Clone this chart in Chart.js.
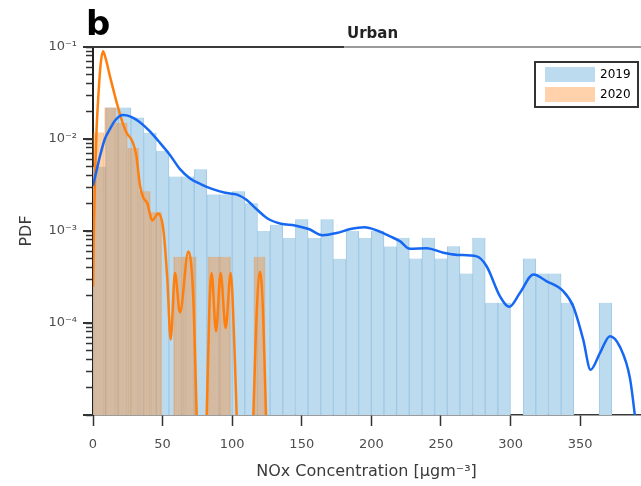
<!DOCTYPE html>
<html>
<head>
<meta charset="utf-8">
<script src="https://cdn.jsdelivr.net/npm/chart.js@4.4.0/dist/chart.umd.min.js"></script>
<style>
html, body { margin: 0; padding: 0; background: #fff; }
#wrap { width: 641px; height: 486px; }
</style>
</head>
<body>
<div id="wrap"><canvas id="pdf-chart" width="641" height="486"></canvas></div>
<script>
// 直方图 2019（分箱宽度，单位 μg/m³）
const binWidth2019 = 9.09;
const pdf2019 = [
    5.0e-3, 2.2e-2, 2.2e-2, 1.71e-2, 1.17e-2, 7.4e-3, 3.9e-3, 3.9e-3, 4.7e-3, 2.5e-3,
    2.5e-3, 2.7e-3, 2.0e-3, 1.0e-3, 1.17e-3, 8.4e-4, 1.34e-3, 8.4e-4, 1.34e-3, 5.0e-4,
    1.0e-3, 8.4e-4, 1.0e-3, 6.8e-4, 8.43e-4, 5.02e-4, 8.43e-4, 5.02e-4, 6.84e-4, 3.45e-4,
    8.43e-4, 1.66e-4, 1.66e-4, null, 5.02e-4, 3.45e-4, 3.45e-4, 1.66e-4, null, null,
    1.66e-4
];

// 直方图 2020
const binWidth2020 = 8.25;
const pdf2020 = [
    1.18e-2, 2.2e-2, 1.5e-2, 8.0e-3, 2.7e-3, 1.6e-3, null, 5.24e-4, 5.24e-4, null,
    5.24e-4, 5.24e-4, null, null, 5.24e-4
];

// 核密度曲线 2019
const kdeX2019 = [0, 2.5, 5, 8.5, 12, 16, 21.5, 27, 33, 40, 47, 55, 62.5, 70, 78, 86, 95, 103, 110,
    118, 126, 135, 145, 155, 165, 175, 185, 195, 205, 213, 220.5, 227.7, 239.7, 251.7, 262, 275.7,
    282.8, 292.4, 299.1, 306.8, 316.4, 326, 338, 345, 352.2, 357.5, 364.2, 371.4, 378.6, 385.8, 390, 393];
const kdeY2019 = [3.1e-3, 4.5e-3, 6.5e-3, 1.0e-2, 1.27e-2, 1.6e-2, 1.82e-2, 1.75e-2, 1.55e-2, 1.25e-2,
    9.5e-3, 6.8e-3, 4.7e-3, 3.7e-3, 3.2e-3, 2.85e-3, 2.6e-3, 2.5e-3, 2.2e-3, 1.7e-3, 1.35e-3, 1.2e-3,
    1.15e-3, 1.05e-3, 9.0e-4, 9.5e-4, 1.05e-3, 1.1e-3, 1.0e-3, 8.8e-4, 7.75e-4, 6.4e-4, 6.5e-4, 5.8e-4,
    5.5e-4, 5.3e-4, 4.14e-4, 1.95e-4, 1.5e-4, 2.13e-4, 3.37e-4, 2.84e-4, 2.21e-4, 1.52e-4, 6.6e-5,
    3.1e-5, 4.7e-5, 7.2e-5, 5.5e-5, 2.5e-5, 8e-6, 3e-6];

// 核密度曲线 2020
const kdeX2020 = [0, 0.7, 1.5, 2.5, 4, 5.5, 7.2, 9, 12.2, 17, 20.5, 24.1, 28, 31, 33.8, 36.2, 39, 42.5,
    46.8, 50.5, 53.4, 55.8, 58.9, 62.5, 68.5, 72, 74.5, 76, 80, 81.7, 83.5, 85.2, 88.4, 91.7, 95.3,
    98.9, 102, 103.2, 105, 113.5, 115.2, 117.6, 120, 122.2, 124.3, 126];
const kdeY2020 = [2.5e-4, 1.2e-3, 4e-3, 1.2e-2, 3.2e-2, 6.5e-2, 9.0e-2, 7.6e-2, 4.8e-2, 2.5e-2, 1.63e-2,
    1.17e-2, 9.6e-3, 6.8e-3, 3.1e-3, 2.3e-3, 2.0e-3, 1.3e-3, 1.55e-3, 1.05e-3, 3e-4, 6.6e-5, 3.5e-4,
    1.3e-4, 6e-4, 1.95e-4, 1e-5, 2e-6, 2e-6, 1e-5, 1.29e-4, 3.5e-4, 8.1e-5, 3.5e-4, 8.8e-5, 3.5e-4,
    3.7e-5, 1e-5, 2e-6, 2e-6, 1e-5, 1.29e-4, 3.6e-4, 1.29e-4, 1e-5, 2e-6];

// 坐标轴刻度
const xTicks = [0, 50, 100, 150, 200, 250, 300, 350];
const xMax = 393;
const yDecades = [1e-5, 1e-4, 1e-3, 1e-2];
const yLabelValues = [1e-4, 1e-3, 1e-2, 1e-1];
const yLabels = ['10⁻⁴', '10⁻³', '10⁻²', '10⁻¹'];
const legendLabels = ['2019', '2020'];

const FONT = '"DejaVu Sans", sans-serif';
const COLOR_BAR_2019 = 'rgb(189, 219, 238)';
const COLOR_BAR_2020 = 'rgba(255, 127, 14, 0.35)';

// 刻度值：每个数量级 1..9
const yTickValues = [];
yDecades.forEach(d => {
    for (let m = 1; m <= 9; m++) yTickValues.push(m * d);
});
yTickValues.push(1e-1);

function barData(values, width) {
    return values.map((v, i) => ({ x: (i + 0.5) * width, y: v }));
}

function lineData(xs, ys) {
    return xs.map((x, i) => ({ x: x, y: ys[i] }));
}

function yLabelFor(value) {
    for (let i = 0; i < yLabelValues.length; i++) {
        if (Math.abs(value / yLabelValues[i] - 1) < 1e-6) return yLabels[i];
    }
    return '';
}

// 装饰：标号、标题、顶边线、主刻度加长、图例
const decorPlugin = {
    id: 'decor',
    afterDraw(chart) {
        const { ctx, chartArea: a } = chart;
        const w = a.right - a.left;
        ctx.save();

        // 顶部边线
        const split = a.left + w * 0.459;
        ctx.lineWidth = 2;
        ctx.strokeStyle = '#3a3a3a';
        ctx.beginPath();
        ctx.moveTo(a.left - 1, a.top);
        ctx.lineTo(split, a.top);
        ctx.stroke();
        ctx.strokeStyle = '#9a9a9a';
        ctx.beginPath();
        ctx.moveTo(split, a.top);
        ctx.lineTo(a.right + 1, a.top);
        ctx.stroke();

        // y 主刻度比次刻度长
        const yScale = chart.scales.y;
        ctx.strokeStyle = '#333';
        ctx.lineWidth = 2;
        yLabelValues.concat([yDecades[0]]).forEach(v => {
            const py = Math.round(yScale.getPixelForValue(v));
            ctx.beginPath();
            ctx.moveTo(a.left - 10, py);
            ctx.lineTo(a.left, py);
            ctx.stroke();
        });

        // 面板标号 b
        ctx.fillStyle = '#000';
        ctx.font = 'bold 34px ' + FONT;
        ctx.textAlign = 'left';
        ctx.textBaseline = 'alphabetic';
        ctx.fillText('b', a.left - 7, a.top - 12);

        // 标题
        ctx.font = 'bold 15px ' + FONT;
        ctx.fillStyle = '#222';
        ctx.textAlign = 'center';
        ctx.fillText('Urban', a.left + w * 0.511, a.top - 9);

        // 图例
        const bx = a.right - 105, by = a.top + 15, bw = 103, bh = 45;
        ctx.fillStyle = '#fff';
        ctx.fillRect(bx, by, bw, bh);
        ctx.lineWidth = 2;
        ctx.strokeStyle = '#333';
        ctx.strokeRect(bx, by, bw, bh);
        const colors = [COLOR_BAR_2019, COLOR_BAR_2020];
        ctx.font = '12px ' + FONT;
        ctx.textAlign = 'left';
        ctx.textBaseline = 'middle';
        legendLabels.forEach((label, i) => {
            const cy = by + 12 + i * 20;
            ctx.fillStyle = colors[i];
            ctx.fillRect(bx + 10, cy - 7, 50, 15);
            ctx.fillStyle = '#000';
            ctx.fillText(label, bx + 65, cy + 1);
        });
        ctx.restore();
    }
};

const ctx = document.getElementById('pdf-chart').getContext('2d');
const chart = new Chart(ctx, {
    type: 'bar',
    data: {
        datasets: [
            {
                type: 'line',
                label: 'KDE 2019',
                data: lineData(kdeX2019, kdeY2019),
                xAxisID: 'x',
                borderColor: '#1668f2',
                borderWidth: 2.5,
                pointRadius: 0,
                cubicInterpolationMode: 'monotone',
                fill: false,
                order: 0
            },
            {
                type: 'line',
                label: 'KDE 2020',
                data: lineData(kdeX2020, kdeY2020),
                xAxisID: 'x',
                borderColor: '#ff7f0e',
                borderWidth: 2.5,
                pointRadius: 0,
                cubicInterpolationMode: 'monotone',
                fill: false,
                order: 1
            },
            {
                label: '2020',
                data: barData(pdf2020, binWidth2020),
                xAxisID: 'x2',
                backgroundColor: COLOR_BAR_2020,
                borderColor: 'rgba(225, 140, 70, 0.3)',
                borderWidth: { left: 1, right: 1, top: 0, bottom: 0 },
                barPercentage: 1,
                categoryPercentage: 1,
                grouped: false,
                order: 2
            },
            {
                label: '2019',
                data: barData(pdf2019, binWidth2019),
                xAxisID: 'x',
                backgroundColor: COLOR_BAR_2019,
                borderColor: 'rgb(160, 201, 229)',
                borderWidth: { left: 1, right: 1, top: 0, bottom: 0 },
                barPercentage: 1,
                categoryPercentage: 1,
                grouped: false,
                order: 3
            }
        ]
    },
    options: {
        responsive: false,
        animation: false,
        devicePixelRatio: 1,
        layout: { padding: { top: 47, right: 1, left: 0, bottom: 0 } },
        plugins: {
            legend: { display: false },
            tooltip: { enabled: false }
        },
        scales: {
            x: {
                type: 'linear',
                position: 'bottom',
                min: 0,
                max: xMax,
                offset: false,
                afterBuildTicks: s => { s.ticks = xTicks.map(v => ({ value: v })); },
                afterFit: s => { s.height = 71; },
                grid: {
                    offset: false,
                    drawOnChartArea: false,
                    drawTicks: true,
                    tickLength: 11,
                    tickColor: '#333',
                    tickWidth: 1.5
                },
                border: { color: '#3a3a3a', width: 1.5 },
                ticks: {
                    autoSkip: false,
                    maxRotation: 0,
                    padding: 11,
                    color: '#4d4d4d',
                    font: { family: FONT, size: 13 }
                },
                title: {
                    display: true,
                    text: 'NOx Concentration [μgm⁻³]',
                    color: '#3a3a3a',
                    font: { family: FONT, size: 16 },
                    padding: { top: 0, bottom: 5 }
                }
            },
            x2: {
                axis: 'x',
                type: 'linear',
                position: 'bottom',
                min: 0,
                max: xMax,
                offset: false,
                display: false,
                grid: { offset: false }
            },
            y: {
                type: 'logarithmic',
                position: 'left',
                min: 1e-5,
                max: 1e-1,
                beginAtZero: false,
                afterBuildTicks: s => { s.ticks = yTickValues.map(v => ({ value: v })); },
                afterFit: s => { s.width = 93; },
                grid: {
                    drawOnChartArea: false,
                    drawTicks: true,
                    tickLength: 7,
                    tickColor: '#333',
                    tickWidth: 1.5
                },
                border: { color: '#222', width: 2 },
                ticks: {
                    autoSkip: false,
                    padding: 9,
                    color: '#4d4d4d',
                    font: { family: FONT, size: 13 },
                    callback: v => yLabelFor(v)
                },
                title: {
                    display: true,
                    text: 'PDF',
                    color: '#3a3a3a',
                    font: { family: FONT, size: 16 },
                    padding: { top: 17, bottom: 0 }
                }
            }
        }
    },
    plugins: [decorPlugin]
});
</script>
</body>
</html>
